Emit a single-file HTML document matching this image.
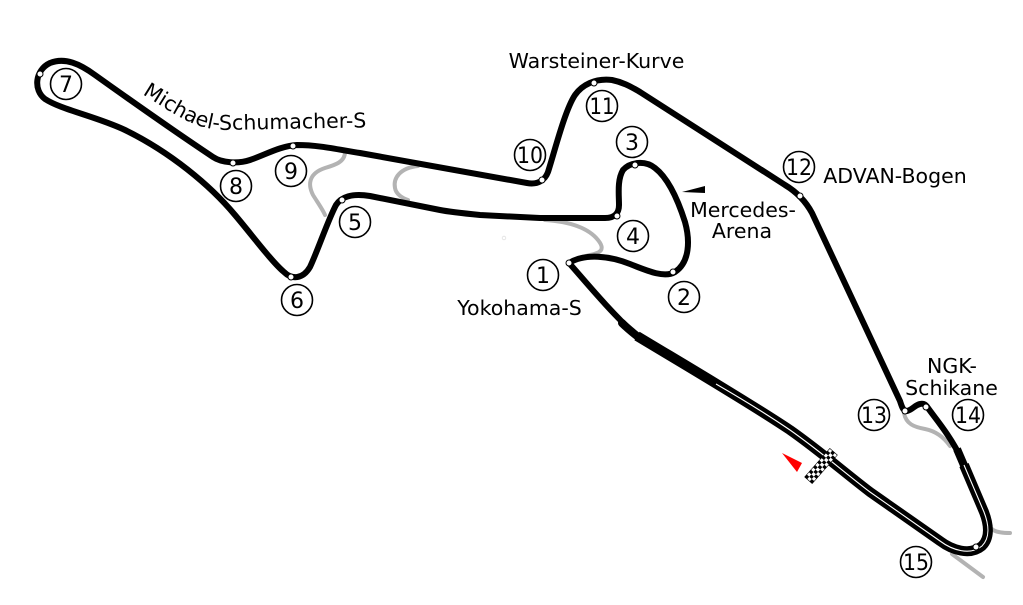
<!DOCTYPE html>
<html>
<head>
<meta charset="utf-8">
<style>
html,body{margin:0;padding:0;background:#fff;}
svg{display:block;}
text{font-family:"DejaVu Sans","Liberation Sans",sans-serif;fill:#000;}
</style>
</head>
<body>
<svg width="1023" height="605" viewBox="0 0 1023 605" xmlns="http://www.w3.org/2000/svg">
<rect width="1023" height="605" fill="#fff"/>

<!-- gray old track sections -->
<g fill="none" stroke="#b3b3b3" stroke-width="4" stroke-linecap="round">
  <path d="M345,152 C345,162 335,165 325,168 C310,173 307,183 313,195 C318,203 323,210 325,215"/>
  <path d="M418,166 C400,168 393,178 395,188 C396,194 402,198 408,200"/>
  <path d="M545,220 C575,222 590,230 598,240 C606,250 600,253 590,255 L578,258"/>
  <path d="M904,413 C906,424 914,427 925,429 C935,431 943,436 950,446"/>
  <path d="M987,520 C989,530 995,533 1010,533"/>
  <path d="M952,554 L983,577"/>
</g>
<circle cx="504" cy="238" r="1.8" fill="none" stroke="#e0e0e0" stroke-width="0.8"/>

<!-- main track -->
<g fill="none" stroke="#000" stroke-linejoin="round" stroke-linecap="round">
  <path stroke-width="6" d="M569,263 C585,253 610,256 630,264 C650,272 665,278 675,272 C690,262 690,240 685,222 C678,200 668,178 655,168 C645,160 630,162 623,170 C617,180 619,195 619,205 C619,213 615,218 605,218 L540,218 L480,215 C460,213 450,212 440,210 L370,196 C352,193 341,197 336,205 C328,220 318,250 310,267 C303,279 292,280 284,272 C272,262 252,235 235,215 C210,185 170,152 125,130 C95,116 62,110 45,99 C33,90 35,70 50,63 C65,57 80,64 95,75 C130,100 180,135 213,157 C222,163 238,164 250,160 C265,155 280,146 297,145 C320,145 340,150 360,153 L527,183 C538,185 545,180 548,172 C555,150 565,110 575,95 C582,85 595,78 612,80 C622,82 630,86 640,92 L785,185 C795,191 805,200 812,213 L900,401 C902,407 903,411 907,411 C912,410 915,405 920,404 C924,403 926,405 928,408 C935,418 950,435 962,460"/>
  <path stroke-width="6" d="M569,263 C580,275 610,312 637,336"/>
  <path stroke-width="8" d="M622,323 C627,328 632,332 637,336"/>
  <path stroke-width="10" stroke-linecap="butt" d="M637,336 C680,362 745,400 790,430 C820,451 845,473 870,492 L940,541 C952,550 970,556 982,546 C990,538 989,525 984,512 L964,465"/>
  <path stroke-width="8" stroke-linecap="butt" d="M966,470 L957,449"/>
</g>
<path fill="none" stroke="#fff" stroke-width="1.1" d="M716,384 C742,399 765,413 790,430 C820,451 845,473 870,492 L940,541 C952,550 970,556 982,546 C990,538 989,525 984,512 L964,465"/>

<!-- corner dots -->
<g fill="#fff" stroke="#000" stroke-width="1">
  <circle cx="40" cy="74" r="3"/>
  <circle cx="233" cy="163" r="3"/>
  <circle cx="293" cy="146" r="3"/>
  <circle cx="542" cy="180" r="3"/>
  <circle cx="594" cy="83" r="3"/>
  <circle cx="800" cy="196" r="3"/>
  <circle cx="905" cy="411" r="3"/>
  <circle cx="926" cy="407" r="3"/>
  <circle cx="976" cy="547" r="3"/>
  <circle cx="291" cy="277" r="3"/>
  <circle cx="342" cy="200" r="3"/>
  <circle cx="617" cy="216" r="3"/>
  <circle cx="635" cy="165" r="3"/>
  <circle cx="673" cy="272" r="3"/>
  <circle cx="569" cy="263" r="3"/>
</g>

<!-- checkered flag -->
<g transform="translate(821,466) rotate(-48.5)">
  <rect x="-19" y="-5" width="38" height="10" fill="#fff" stroke="#000" stroke-width="0.6"/>
  <g fill="#000">
    <rect x="-19" y="-5" width="3.17" height="3.33"/>
    <rect x="-12.67" y="-5" width="3.17" height="3.33"/>
    <rect x="-6.33" y="-5" width="3.17" height="3.33"/>
    <rect x="0" y="-5" width="3.17" height="3.33"/>
    <rect x="6.33" y="-5" width="3.17" height="3.33"/>
    <rect x="12.67" y="-5" width="3.17" height="3.33"/>
    <rect x="-15.83" y="-1.67" width="3.17" height="3.33"/>
    <rect x="-9.5" y="-1.67" width="3.17" height="3.33"/>
    <rect x="-3.17" y="-1.67" width="3.17" height="3.33"/>
    <rect x="3.17" y="-1.67" width="3.17" height="3.33"/>
    <rect x="9.5" y="-1.67" width="3.17" height="3.33"/>
    <rect x="15.83" y="-1.67" width="3.17" height="3.33"/>
    <rect x="-19" y="1.67" width="3.17" height="3.33"/>
    <rect x="-12.67" y="1.67" width="3.17" height="3.33"/>
    <rect x="-6.33" y="1.67" width="3.17" height="3.33"/>
    <rect x="0" y="1.67" width="3.17" height="3.33"/>
    <rect x="6.33" y="1.67" width="3.17" height="3.33"/>
    <rect x="12.67" y="1.67" width="3.17" height="3.33"/>
  </g>
</g>

<!-- direction arrow -->
<polygon points="782,453 802,463 797,472" fill="#f00"/>
<!-- Mercedes arena marker -->
<polygon points="682,192 705,186 705,193" fill="#000"/>

<!-- number circles -->
<g fill="none" stroke="#000" stroke-width="1.6">
  <circle cx="66" cy="84" r="15.5"/>
  <circle cx="236" cy="186" r="15.5"/>
  <circle cx="291" cy="171" r="15.5"/>
  <circle cx="355" cy="222" r="15.5"/>
  <circle cx="297" cy="300" r="15.5"/>
  <circle cx="530" cy="155" r="15.5"/>
  <circle cx="602" cy="106" r="15.5"/>
  <circle cx="632" cy="142" r="15.5"/>
  <circle cx="633" cy="236" r="15.5"/>
  <circle cx="543" cy="275" r="15.5"/>
  <circle cx="684" cy="297" r="15.5"/>
  <circle cx="799" cy="167" r="15.5"/>
  <circle cx="874" cy="415" r="15.5"/>
  <circle cx="968" cy="415" r="15.5"/>
  <circle cx="916" cy="562" r="15.5"/>
</g>
<g font-size="22" text-anchor="middle">
  <text x="66" y="92">7</text>
  <text x="236" y="194">8</text>
  <text x="291" y="179">9</text>
  <text x="355" y="230">5</text>
  <text x="297" y="308">6</text>
  <text x="530" y="163" textLength="26" lengthAdjust="spacingAndGlyphs">10</text>
  <text x="602" y="114" textLength="25" lengthAdjust="spacingAndGlyphs">11</text>
  <text x="632" y="150">3</text>
  <text x="633" y="244">4</text>
  <text x="543" y="283">1</text>
  <text x="684" y="305">2</text>
  <text x="799" y="175" textLength="26" lengthAdjust="spacingAndGlyphs">12</text>
  <text x="874" y="423" textLength="26" lengthAdjust="spacingAndGlyphs">13</text>
  <text x="968" y="423" textLength="26" lengthAdjust="spacingAndGlyphs">14</text>
  <text x="916" y="570" textLength="26" lengthAdjust="spacingAndGlyphs">15</text>
</g>

<!-- labels -->
<g font-size="20.5">
  <text x="596.5" y="68" text-anchor="middle">Warsteiner-Kurve</text>
  <text x="743" y="217" text-anchor="middle">Mercedes-</text>
  <text x="742" y="238" text-anchor="middle">Arena</text>
  <text x="895" y="183" text-anchor="middle">ADVAN-Bogen</text>
  <text x="952" y="373" text-anchor="middle">NGK-</text>
  <text x="951.5" y="395" text-anchor="middle">Schikane</text>
  <text x="519.5" y="315" text-anchor="middle">Yokohama-S</text>
  <path id="msPath" d="M142,94 C170,111 192,128 220,130 L385,127" fill="none"/>
  <text><textPath href="#msPath">Michael-Schumacher-S</textPath></text>
</g>
</svg>
</body>
</html>
